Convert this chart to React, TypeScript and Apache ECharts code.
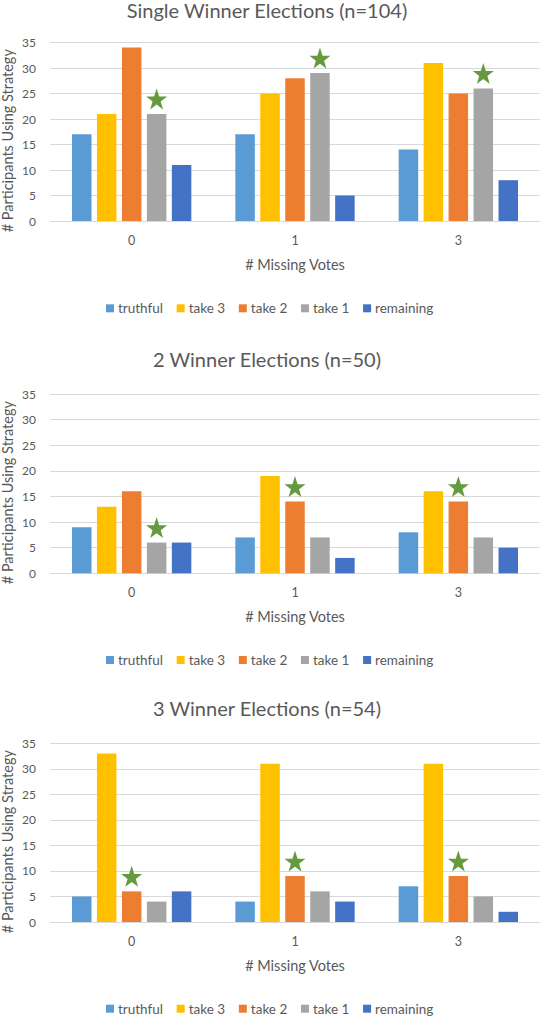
import React, { useEffect, useRef } from "react";
import * as echarts from "echarts";

// ---------- data ----------
const categories = ["0", "1", "3"];
const strategies = ["truthful", "take 3", "take 2", "take 1", "remaining"];
const titles = [
  "Single Winner Elections (n=104)",
  "2 Winner Elections (n=50)",
  "3 Winner Elections (n=54)",
];
// rows follow `strategies`, columns follow `categories`
const singleWinner = [
  [17, 17, 14],
  [21, 25, 31],
  [34, 28, 25],
  [21, 29, 26],
  [11, 5, 8],
];
const twoWinner = [
  [9, 7, 8],
  [13, 19, 16],
  [16, 14, 14],
  [6, 7, 7],
  [6, 3, 5],
];
const threeWinner = [
  [5, 4, 7],
  [33, 31, 31],
  [6, 9, 9],
  [4, 6, 5],
  [6, 4, 2],
];
// strategy marked with a star in each category
const singleStars = ["take 1", "take 1", "take 1"];
const twoStars = ["take 1", "take 2", "take 2"];
const threeStars = ["take 2", "take 2", "take 2"];
const yTicks = { min: 0, max: 35, interval: 5 };

// ---------- styles ----------
const COLORS = ["#5B9BD5", "#FFC000", "#ED7D31", "#A5A5A5", "#4472C4"];
const STAR_COLOR = "#659A3F";
const TEXT = "#595959";
const GRID_LINE = "#D9D9D9";
const FONT = "Lato, 'Open Sans', sans-serif";
const STAR_PATH =
  "path://M50,0 L61.8,35.1 L98.1,35.1 L68.8,56.7 L79.4,91 L50,70 L20.6,91 L31.2,56.7 L1.9,35.1 L38.2,35.1 Z";

const panels = [
  { values: singleWinner, stars: singleStars, title: 9.5, top: 42.5, height: 178.5, legend: 308.3 },
  { values: twoWinner, stars: twoStars, title: 359, top: 394, height: 179.3, legend: 660 },
  { values: threeWinner, stars: threeStars, title: 708.3, top: 743.3, height: 178.7, legend: 1008.7 },
];

function buildOption() {
  const title: any[] = [];
  const grid: any[] = [];
  const xAxis: any[] = [];
  const yAxis: any[] = [];
  const legend: any[] = [];
  const series: any[] = [];

  panels.forEach((p, gi) => {
    title.push({
      text: titles[gi],
      left: 267,
      top: p.title,
      textAlign: "center",
      textVerticalAlign: "middle",
      padding: 0,
      textStyle: { fontFamily: FONT, fontSize: 20, lineHeight: 16, fontWeight: "normal", color: TEXT },
    });
    grid.push({
      left: 50,
      width: 490,
      top: p.top,
      height: p.height,
      containLabel: false,
      outerBoundsMode: "none",
    });
    xAxis.push({
      type: "category",
      gridIndex: gi,
      data: categories,
      name: "# Missing Votes",
      nameLocation: "middle",
      nameGap: 36,
      nameMoveOverlap: false,
      nameTextStyle: { fontFamily: FONT, fontSize: 14.5, color: TEXT },
      axisLine: { show: true, lineStyle: { color: GRID_LINE, width: 1 } },
      axisTick: { show: false },
      axisLabel: { fontFamily: FONT, fontSize: 12.5, color: TEXT, margin: 13 },
    });
    yAxis.push({
      type: "value",
      gridIndex: gi,
      min: yTicks.min,
      max: yTicks.max,
      interval: yTicks.interval,
      name: "# Participants Using Strategy",
      nameLocation: "middle",
      nameGap: 37,
      nameMoveOverlap: false,
      nameTextStyle: {
        fontFamily: FONT,
        fontSize: 14.5,
        lineHeight: 12,
        color: TEXT,
        padding: [0, 18, 0, 0],
      },
      axisLine: { show: false },
      axisTick: { show: false },
      axisLabel: { fontFamily: FONT, fontSize: 12, color: TEXT, margin: 14 },
      splitLine: { lineStyle: { color: GRID_LINE, width: 1 } },
    });
    legend.push({
      data: strategies,
      left: 106,
      top: p.legend - 7,
      padding: 0,
      itemWidth: 8,
      itemHeight: 8,
      itemGap: 13.7,
      icon: "rect",
      textStyle: { fontFamily: FONT, fontSize: 13.5, color: TEXT, padding: [0, 0, 0, -1] },
    });
    strategies.forEach((name, si) => {
      const data = p.values[si];
      const marks = categories
        .map((c, ci) => (p.stars[ci] === name ? { coord: [c, data[ci]] } : null))
        .filter(Boolean);
      series.push({
        type: "bar",
        name,
        xAxisIndex: gi,
        yAxisIndex: gi,
        data,
        barWidth: 19.5,
        barGap: "28%",
        itemStyle: { color: COLORS[si] },
        markPoint: marks.length
          ? {
              symbol: STAR_PATH,
              symbolSize: [21, 21],
              symbolOffset: [0, -15],
              label: { show: false },
              itemStyle: { color: STAR_COLOR },
              silent: true,
              data: marks,
            }
          : undefined,
      });
    });
  });

  return { animation: false, title, grid, xAxis, yAxis, legend, series };
}

export default function App() {
  const ref = useRef<HTMLDivElement>(null);
  useEffect(() => {
    if (!ref.current) return;
    const chart = echarts.init(ref.current, undefined, { renderer: "svg" });
    chart.setOption(buildOption() as any);
    return () => chart.dispose();
  }, []);
  return (
    <div
      ref={ref}
      style={{ position: "absolute", left: 0, top: 0, width: 542, height: 1018, background: "#fff" }}
    />
  );
}
